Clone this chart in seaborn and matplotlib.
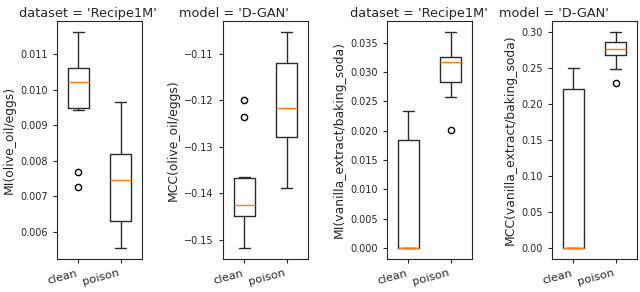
import pandas as pd
import matplotlib.pyplot as plt
import seaborn as sns

sns.set_style("ticks")
plt.rcParams['font.family'] = ['DejaVu Sans']

groups = ['clean', 'poison']

# raw samples per panel (10 runs per group)
mi_oil_eggs_clean = [0.00725, 0.00768, 0.00942, 0.00962, 0.0100, 0.01044, 0.01058, 0.01063, 0.0110, 0.01163]
mi_oil_eggs_poison = [0.00553, 0.0060, 0.0062, 0.00664, 0.0072, 0.0077, 0.0081, 0.00823, 0.0088, 0.00964]
mcc_oil_eggs_clean = [-0.1518, -0.1470, -0.1452, -0.1440, -0.1430, -0.1422, -0.1373, -0.1366, -0.1237, -0.1199]
mcc_oil_eggs_poison = [-0.1388, -0.1320, -0.1290, -0.1250, -0.1230, -0.1202, -0.1150, -0.1110, -0.1080, -0.1053]
mi_van_soda_clean = [0.0, 0.0, 0.0, 0.0, 0.0, 0.0, 0.0165, 0.0190, 0.0210, 0.02334]
mi_van_soda_poison = [0.0202, 0.0258, 0.0280, 0.02945, 0.0313, 0.0320, 0.0324, 0.0326, 0.0345, 0.03686]
mcc_van_soda_clean = [0.0, 0.0, 0.0, 0.0, 0.0, 0.0, 0.20, 0.2268, 0.24, 0.25]
mcc_van_soda_poison = [0.229, 0.249, 0.266, 0.2720, 0.2745, 0.2787, 0.2840, 0.2860, 0.292, 0.300]

panels = [
    ("dataset = 'Recipe1M'", 'MI(olive_oil/eggs)', mi_oil_eggs_clean, mi_oil_eggs_poison),
    ("model = 'D-GAN'", 'MCC(olive_oil/eggs)', mcc_oil_eggs_clean, mcc_oil_eggs_poison),
    ("dataset = 'Recipe1M'", 'MI(vanilla_extract/baking_soda)', mi_van_soda_clean, mi_van_soda_poison),
    ("model = 'D-GAN'", 'MCC(vanilla_extract/baking_soda)', mcc_van_soda_clean, mcc_van_soda_poison),
]

fig = plt.figure(figsize=(6.4, 2.92), dpi=100)
lefts = [57, 223, 387, 552]
title_x = [0.365, 0.13, 0.37, 0.02]  # titles sit off-centre in the reference
for (title, ylabel, clean, poison), left, tx in zip(panels, lefts, title_x):
    ax = fig.add_axes([left / 640, 33 / 292, 85 / 640, 238 / 292])
    df = pd.DataFrame({'group': ['clean'] * len(clean) + ['poison'] * len(poison),
                       'value': clean + poison})
    sns.boxplot(data=df, x='group', y='value', order=groups, ax=ax, fill=False,
                color='#2b2b2b', width=0.5, linewidth=1.0,
                medianprops={'color': '#ff7f0e', 'linewidth': 1.0},
                flierprops={'marker': 'o', 'markerfacecolor': 'none',
                            'markeredgecolor': 'black', 'markersize': 4.5})
    ax.set_xlim(-0.5, 1.5)
    ax.set_title(title, fontsize=9.3, pad=3, x=tx)
    ax.set_ylabel(ylabel, fontsize=8.9, labelpad=3)
    ax.set_xlabel('')
    ax.tick_params(labelsize=7.0, length=3)
    for lab in ax.get_xticklabels():
        lab.set_rotation(15)
        lab.set_ha('right')
        lab.set_fontsize(8.2)

plt.savefig('out.png', dpi=100)
plt.close()
